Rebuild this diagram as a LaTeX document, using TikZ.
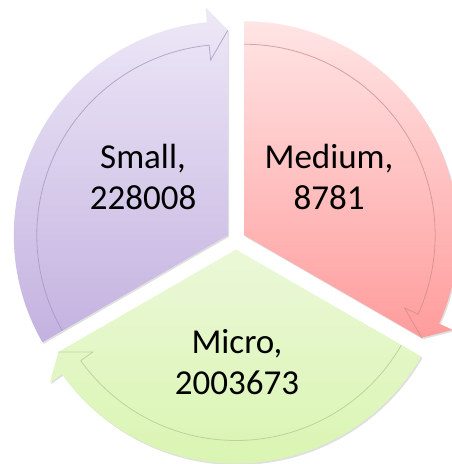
\documentclass[tikz,border=0pt]{standalone}
\usepackage{fontspec}
\setmainfont{Carlito}
\usetikzlibrary{shadows}
\definecolor{pTop}{HTML}{EEE8F7}
\definecolor{pBot}{HTML}{C3B2E0}
\definecolor{pLine}{HTML}{A496BC}
\definecolor{rTop}{HTML}{FFE5E5}
\definecolor{rBot}{HTML}{FF9C9C}
\definecolor{rLine}{HTML}{CC8C8C}
\definecolor{gTop}{HTML}{EBF8D8}
\definecolor{gBot}{HTML}{DAF5B2}
\definecolor{gLine}{HTML}{AFC894}
\newcommand\Rout{214}
\newcommand\Rin{191}
\newcommand\Rbo{229}
\newcommand\Rbi{176}
\newcommand\Rtip{205}
\newcommand\headang{5.6}
\newcommand\cyclesegment[6]{%
  \begin{scope}[shift={(#1pt,#2pt)}]
    \pgfmathsetmacro\ea{#3-120}
    \pgfmathsetmacro\eb{#3-120+\headang}
    \path[segfill, top color=#4, bottom color=#5]
      (0,0) -- (#3:\Rout pt) arc[start angle=#3, end angle=\eb, radius=\Rout pt]
      -- (\eb:\Rbo pt) -- (\ea:\Rtip pt) -- cycle;
    \draw[bandline, draw=#6]
      (#3:\Rin pt) arc[start angle=#3, end angle=\eb, radius=\Rin pt]
      -- (\eb:\Rbi pt) -- (\ea:\Rtip pt);
  \end{scope}}
\tikzset{
  segfill/.style={drop shadow={opacity=0.25, shadow xshift=1.2pt, shadow yshift=-1.5pt}},
  bandline/.style={line width=0.8pt, draw opacity=0.75},
  label/.style={align=center, inner sep=0pt, font=\fontsize{35}{41}\selectfont}
}
\begin{document}
\begin{tikzpicture}[x=1pt, y=1pt]
  \useasboundingbox (0,0) rectangle (451,464);
  \fill[white] (0,0) rectangle (451,464);
  \cyclesegment{227.8}{228.75}{210}{pTop}{pBot}{pLine}
  \cyclesegment{244.2}{228.75}{90}{rTop}{rBot}{rLine}
  \cyclesegment{236}{214.5}{-30}{gTop}{gBot}{gLine}
  \node[label] (small) at (143,287) {Small,\\228008};
  \node[label] (medium) at (329,287) {Medium,\\8781};
  \node[label] (micro) at (237,102) {Micro,\\2003673};
\end{tikzpicture}
\end{document}
